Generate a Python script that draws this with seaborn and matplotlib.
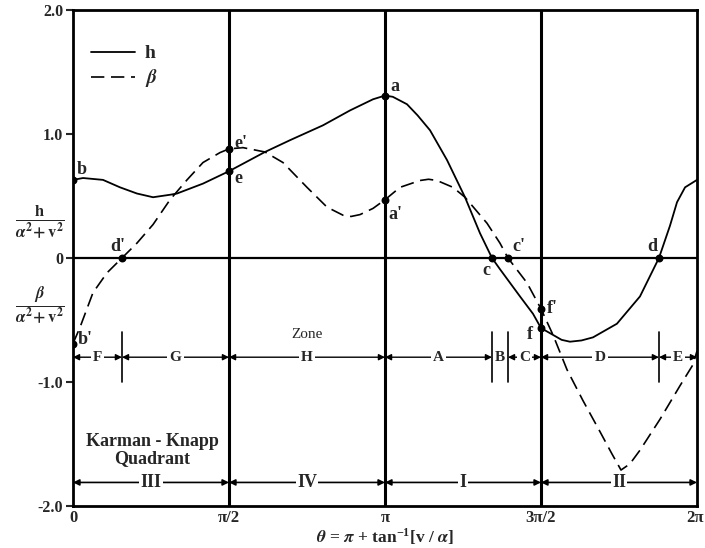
import numpy as np
import pandas as pd
import matplotlib
matplotlib.use("Agg")
import matplotlib.pyplot as plt
import matplotlib.transforms as mtransforms
import seaborn as sns

PI = np.pi

# ---- data ----
h_theta = [0.000, 0.101, 0.302, 0.473, 0.644, 0.806, 0.977, 1.047, 1.309, PI/2,
           1.933, 2.185, 2.517, 2.789, 3.021, PI, 3.22, 3.363, 3.47, 3.595, 3.766, 3.947,
           4.098, 4.219, 4.299, 4.400, 4.501, 4.632, 3*PI/2, 4.833, 4.92, 5.004, 5.12, 5.236,
           5.477, 5.709, 5.900, 6.011, 6.082, 6.163, 2*PI]
h_value = [0.63, 0.645, 0.63, 0.57, 0.52, 0.49, 0.51, 0.52, 0.60, 0.70,
           0.855, 0.95, 1.07, 1.19, 1.28, 1.31, 1.30, 1.24, 1.15, 1.03, 0.79, 0.49,
           0.20, 0.00, -0.09, -0.20, -0.31, -0.45, -0.565, -0.62, -0.66, -0.675, -0.665, -0.64,
           -0.53, -0.31, 0.00, 0.26, 0.45, 0.57, 0.63]

b_theta = [0.000, 0.070, 0.201, 0.342, 0.493, 0.644, 0.806, 0.977, 1.148, 1.309,
           1.480, PI/2, 1.712, 1.933, 2.114, 2.356, 2.558, 2.719, 2.80, 2.890, 3.021,
           PI, 3.293, 3.494, 3.58, 3.665, 3.826, 3.947, 4.169, 4.299, 4.380, 4.571,
           3*PI/2, 4.833, 4.974, 5.135, 5.306, 5.427, 5.518, 5.608, 5.709, 5.911,
           6.112, 6.243, 2*PI]
b_value = [-0.69, -0.56, -0.28, -0.12, 0.00, 0.12, 0.27, 0.47, 0.63, 0.77,
           0.85, 0.88, 0.89, 0.855, 0.77, 0.57, 0.41, 0.345, 0.335, 0.35, 0.40,
           0.47, 0.57, 0.625, 0.635, 0.625, 0.57, 0.49, 0.28, 0.12, 0.00, -0.20,
           -0.41, -0.62, -0.90, -1.15, -1.40, -1.58, -1.71, -1.66, -1.55, -1.30,
           -1.03, -0.86, -0.75]

# labelled points
pt_names = ["a", "a'", "b", "b'", "c", "c'", "d", "d'", "e", "e'", "f", "f'"]
pt_theta = [PI, PI, 0.0, 0.0, 4.219, 4.380, 5.900, 0.493, PI/2, PI/2, 3*PI/2, 3*PI/2]
pt_value = [1.31, 0.47, 0.63, -0.69, 0.0, 0.0, 0.0, 0.0, 0.70, 0.88, -0.565, -0.41]
pt_text_dx = [0.05, 0.03, 0.04, 0.05, -0.10, 0.04, -0.12, -0.12, 0.05, 0.05, -0.14, 0.06]
pt_text_dy = [0.07, -0.12, 0.08, 0.03, -0.10, 0.09, 0.09, 0.09, -0.06, 0.04, -0.05, 0.00]

zone_labels = ["F", "G", "H", "A", "B", "C", "D", "E"]
zone_bounds = [0.0, 0.493, PI/2, PI, 4.219, 4.380, 3*PI/2, 5.900, 2*PI]
quad_labels = ["III", "IV", "I", "II"]
quad_bounds = [0.0, PI/2, PI, 3*PI/2, 2*PI]

xtick_vals = [0, PI/2, PI, 3*PI/2, 2*PI]
xtick_labels = ["0", "π/2", "π", "3π/2", "2π"]
ytick_vals = [2.0, 1.0, 0.0, -1.0, -2.0]
ytick_labels = ["2.0", "1.0", "0", "-1.0", "-2.0"]

# ---- style ----
sns.set_style("white")
plt.rcParams["font.family"] = ["Liberation Serif", "DejaVu Serif"]
plt.rcParams["font.weight"] = "bold"
plt.rcParams["mathtext.fontset"] = "stix"

fig = plt.figure(figsize=(7.05, 5.48), dpi=100)
ax = fig.add_axes([73/705, 1 - 506/548, 624/705, 496/548])

df_h = pd.DataFrame({"theta": h_theta, "val": h_value})
df_b = pd.DataFrame({"theta": b_theta, "val": b_value})
sns.lineplot(data=df_h, x="theta", y="val", ax=ax, color="black", lw=1.3,
             label="h", sort=False, solid_joinstyle="round")
sns.lineplot(data=df_b, x="theta", y="val", ax=ax, color="black", lw=1.2,
             label=r"$\beta$", sort=False)
ax.lines[1].set_dashes((8, 4))

ax.set_xlim(0, 2*PI)
ax.set_ylim(-2, 2)

# reference lines
ax.axhline(0, color="black", lw=1.6, zorder=1)
for xv in [PI/2, PI, 3*PI/2]:
    ax.axvline(xv, color="black", lw=2.2, zorder=1)

for sp in ax.spines.values():
    sp.set_color("black")
    sp.set_linewidth(2.0)

ax.set_xticks(xtick_vals)
ax.set_xticklabels(xtick_labels, fontsize=12, fontweight="bold")
ax.set_yticks(ytick_vals)
ax.set_yticklabels(ytick_labels, fontsize=11.5, fontweight="bold")
ax.tick_params(axis="x", length=0, pad=3)
ax.tick_params(axis="y", length=5, width=1.5, direction="out", left=True, pad=2)
last = ax.get_xticklabels()[-1]
last.set_horizontalalignment("right")
last.set_transform(last.get_transform() +
                   mtransforms.ScaledTranslation(7/100, 0, fig.dpi_scale_trans))
ax.set_xlabel(r"$\theta$ = $\pi$ + tan$^{\mathregular{-1}}$[v / $\alpha$]",
              fontsize=12.5, fontweight="bold", labelpad=0)
ax.set_ylabel("")

# y axis fraction labels
fig.text(40/705, 1 - 222/548, r"$\frac{\mathbf{h}}{\alpha^{2}\!+\mathrm{v}^{2}}$",
         fontsize=17, ha="center", va="center")
fig.text(40/705, 1 - 305/548, r"$\frac{\beta}{\alpha^{2}\!+\mathrm{v}^{2}}$",
         fontsize=17, ha="center", va="center")

# points and labels
ax.scatter(pt_theta, pt_value, s=22, color="black", zorder=5)
for n, t, v, dx, dy in zip(pt_names, pt_theta, pt_value, pt_text_dx, pt_text_dy):
    ax.text(t + dx, v + dy, n, fontsize=13, ha="left", va="center")

# zone arrows
zy = -0.80
for lab, x0, x1 in zip(zone_labels, zone_bounds[:-1], zone_bounds[1:]):
    if x1 - x0 > 0.25:
        ax.annotate("", xy=(x0, zy), xytext=(x1, zy),
                    arrowprops=dict(arrowstyle="<|-|>", color="black", lw=1.0,
                                    shrinkA=0, shrinkB=0, mutation_scale=9))
    ax.text((x0 + x1) / 2, zy, lab, fontsize=11, ha="center", va="center",
            bbox=dict(facecolor="white", edgecolor="none", pad=1.5), zorder=4)
for xv in [0.493, 4.219, 4.380, 5.900]:
    ax.plot([xv, xv], [-0.60, -1.0], color="black", lw=1.2)
ax.text(3*PI/4, -0.62, "Zone", fontsize=11, fontweight="normal",
        ha="center", va="center")

# quadrant arrows
qy = -1.81
for lab, x0, x1 in zip(quad_labels, quad_bounds[:-1], quad_bounds[1:]):
    ax.annotate("", xy=(x0, qy), xytext=(x1, qy),
                arrowprops=dict(arrowstyle="<|-|>", color="black", lw=1.2,
                                shrinkA=0, shrinkB=0, mutation_scale=9))
    ax.text((x0 + x1) / 2, qy, lab, fontsize=13, ha="center", va="center",
            bbox=dict(facecolor="white", edgecolor="none", pad=1.0), zorder=4)
ax.text(0.80, -1.55, "Karman - Knapp\nQuadrant", fontsize=13, ha="center",
        va="center", linespacing=1.0)

leg = ax.legend(loc="upper left", bbox_to_anchor=(0.0, 0.965), frameon=False,
                fontsize=14, handlelength=2.3, handletextpad=0.5, labelspacing=0.25)
for line in leg.get_lines():
    line.set_color("black")

fig.savefig("out.png", dpi=100, facecolor="white")
